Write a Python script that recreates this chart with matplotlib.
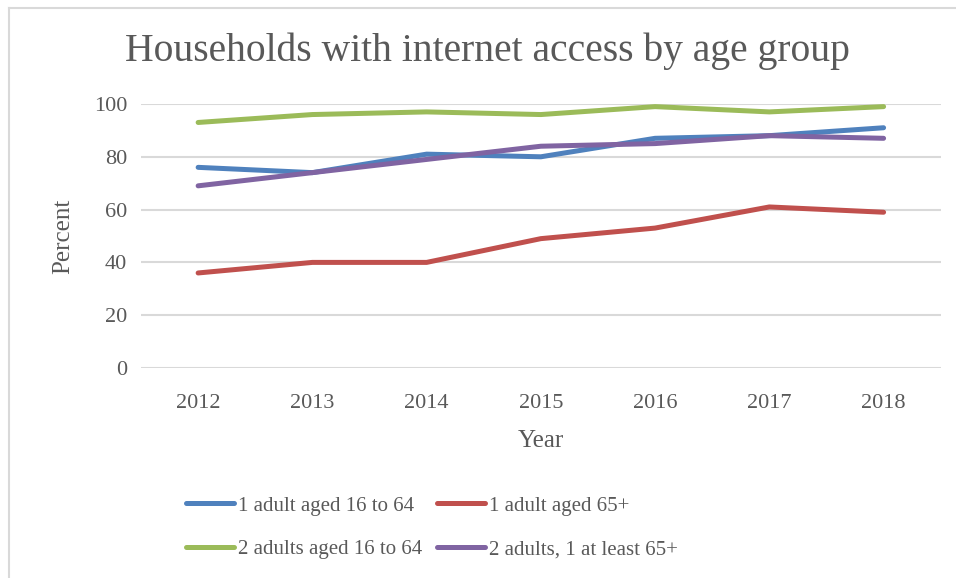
import matplotlib.pyplot as plt
from matplotlib.lines import Line2D

years = ["2012", "2013", "2014", "2015", "2016", "2017", "2018"]
one_adult_16_64 = [76, 74, 81, 80, 87, 88, 91]
one_adult_65 = [36, 40, 40, 49, 53, 61, 59]
two_adults_16_64 = [93, 96, 97, 96, 99, 97, 99]
two_adults_one_65 = [69, 74, 79, 84, 85, 88, 87]

series = [
    ("1 adult aged 16 to 64", one_adult_16_64, "#4F81BD"),
    ("1 adult aged 65+", one_adult_65, "#C0504D"),
    ("2 adults aged 16 to 64", two_adults_16_64, "#9BBB59"),
    ("2 adults, 1 at least 65+", two_adults_one_65, "#8064A2"),
]

text_col = "#595959"
grid_col = "#D9D9D9"
plt.rcParams["font.family"] = ["Liberation Serif", "DejaVu Serif"]

fig = plt.figure(figsize=(9.56, 5.78), dpi=100)
ax = fig.add_axes([0.1475, 0.3633, 0.8365, 0.4568])

x = list(range(len(years)))
for label, vals, col in series:
    ax.plot(x, vals, color=col, linewidth=3.6, solid_capstyle="round", label=label)

ax.set_xlim(-0.5, len(years) - 0.5)
ax.set_ylim(0, 100)
ax.set_yticks(range(0, 101, 20))
ax.set_xticks(x)
ax.set_xticklabels(years)
ax.yaxis.grid(True, color=grid_col, linewidth=1.5)
ax.set_axisbelow(True)
for s in ax.spines.values():
    s.set_visible(False)
ax.tick_params(length=0, labelsize=16, colors=text_col, pad=10)
ax.tick_params(axis="x", pad=19)

ax.set_xlabel("Year", fontsize=18, color=text_col, labelpad=12)
ax.set_ylabel("Percent", fontsize=18, color=text_col, labelpad=14)
fig.text(0.510, 0.912, "Households with internet access by age group",
         ha="center", va="center", fontsize=28.5, color=text_col)

# chart frame: only top and left edges are visible
fig.add_artist(Line2D([0.009, 1.0], [0.987, 0.987], color=grid_col, linewidth=1.5))
fig.add_artist(Line2D([0.009, 0.009], [0.0, 0.987], color=grid_col, linewidth=1.5))

# legend fills column by column, so reorder to read across rows
handles, labels = ax.get_legend_handles_labels()
order = [0, 2, 1, 3]
fig.legend([handles[i] for i in order], [labels[i] for i in order],
           loc="center", bbox_to_anchor=(0.452, 0.087), ncol=2, frameon=False,
           fontsize=15, labelcolor=text_col, handlelength=2.3, handletextpad=0.2,
           columnspacing=0.7, labelspacing=1.15)

plt.savefig("out.png", dpi=100)
